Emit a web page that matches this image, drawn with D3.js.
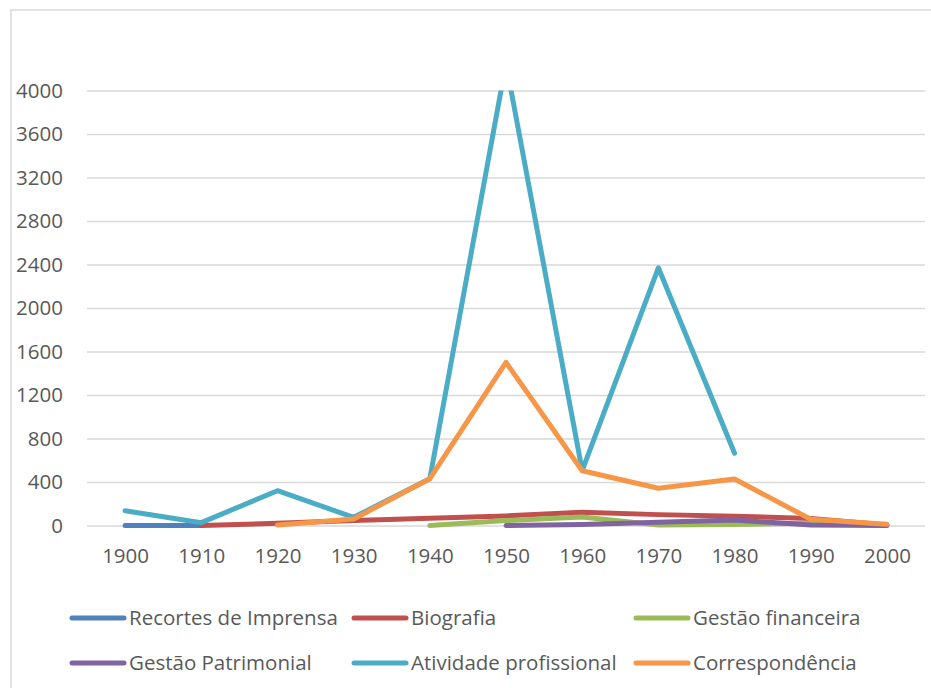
<!DOCTYPE html>
<html>
<head>
<meta charset="utf-8">
<script src="https://cdn.jsdelivr.net/npm/d3@7"></script>
<style>
  body{margin:0;background:#fff;}
  svg text{font-family:"Open Sans","Noto Sans",sans-serif;fill:#595959;}
</style>
</head>
<body>
<div id="chart"></div>
<script>
// categories
const years=[`1900`,`1910`,`1920`,`1930`,`1940`,`1950`,`1960`,`1970`,`1980`,`1990`,`2000`];
const yTicks=[0,400,800,1200,1600,2000,2400,2800,3200,3600,4000];

// series values, null = no data for that decade
const recortes=[0,0,null,null,null,null,null,null,null,null,null];
const biografia=[null,0,20,45,66,88,121,100,85,65,5];
const gestaoFinanceira=[null,null,null,null,0,45,78,5,10,20,0];
const gestaoPatrimonial=[null,null,null,null,null,0,10,30,50,5,0];
const atividade=[136,26,320,75,430,4250,505,2370,665,null,null];
const correspondencia=[null,null,5,60,430,1500,504,342,428,57,11];

const seriesNames=[`Recortes de Imprensa`,`Biografia`,`Gestão financeira`,`Gestão Patrimonial`,`Atividade profissional`,`Correspondência`];
const seriesValues=[recortes,biografia,gestaoFinanceira,gestaoPatrimonial,atividade,correspondencia];
const colors=[`#4F81BD`,`#C0504D`,`#9BBB59`,`#8064A2`,`#4BACC6`,`#F79646`];

let Chart={
    format:{width:931,height:688,plot:{left:87,right:925,top:90.5,bottom:525.5}},
    //svg with the outer chart border
    generateSvg(container){
        let svg=d3.select(container).append(`svg`)
            .attr(`width`,this.format.width)
            .attr(`height`,this.format.height);
        svg.append(`rect`)
            .attr(`x`,11).attr(`y`,10)
            .attr(`width`,940).attr(`height`,700)
            .attr(`fill`,`#fff`)
            .attr(`stroke`,`#D9D9D9`)
            .attr(`stroke-width`,1.5);
        return svg;
    },
    generateYAxis(svg){
        let p=this.format.plot;
        let y=d3.scaleLinear().domain([0,4000]).range([p.bottom,p.top]);
        let axis=svg.append(`g`)
            .attr(`class`,`y axis`)
            .attr(`transform`,`translate(${p.left},0)`)
            .call(d3.axisLeft(y).tickValues(yTicks).tickFormat(d3.format(`d`))
                .tickSize(-(p.right-p.left)).tickPadding(24));
        axis.select(`.domain`).remove();
        axis.selectAll(`line`).attr(`stroke`,`#D9D9D9`).attr(`stroke-width`,1.5);
        axis.selectAll(`text`).attr(`font-size`,`20.5px`).attr(`fill`,`#595959`);
        return y;
    },
    generateXAxis(svg){
        let p=this.format.plot;
        let x=d3.scalePoint().domain(years).range([p.left,p.right]).padding(0.5);
        let axis=svg.append(`g`)
            .attr(`class`,`x axis`)
            .attr(`transform`,`translate(0,${p.bottom})`)
            .call(d3.axisBottom(x).tickSize(0).tickPadding(23));
        axis.select(`.domain`).remove();
        axis.selectAll(`text`).attr(`font-size`,`20.5px`).attr(`fill`,`#595959`);
        return x;
    },
    generateLines(svg,x,y){
        let p=this.format.plot;
        svg.append(`clipPath`).attr(`id`,`plotclip`)
            .append(`rect`)
            .attr(`x`,p.left).attr(`y`,p.top)
            .attr(`width`,p.right-p.left).attr(`height`,p.bottom-p.top+10);
        let line=d3.line()
            .defined(d=>d.value!=null)
            .x(d=>x(d.year))
            .y(d=>y(d.value));
        svg.append(`g`)
            .attr(`class`,`line graph`)
            .attr(`clip-path`,`url(#plotclip)`)
            .selectAll(`path`)
            .data(seriesValues)
            .enter()
            .append(`path`)
            .attr(`fill`,`none`)
            .attr(`stroke`,(d,i)=>colors[i])
            .attr(`stroke-width`,5)
            .attr(`stroke-linecap`,`round`)
            .attr(`stroke-linejoin`,`round`)
            .attr(`d`,d=>line(d.map((v,j)=>({year:years[j],value:v}))));
    },
    //two rows of three entries
    generateLegend(svg){
        let colX=[70,352,634],rowY=[618,663];
        let item=svg.append(`g`).attr(`class`,`legend`)
            .selectAll(`g`)
            .data(seriesNames)
            .enter()
            .append(`g`)
            .attr(`transform`,(d,i)=>`translate(${colX[i%3]},${rowY[Math.floor(i/3)]})`);
        item.append(`line`)
            .attr(`x1`,2).attr(`x2`,54)
            .attr(`stroke`,(d,i)=>colors[i])
            .attr(`stroke-width`,5)
            .attr(`stroke-linecap`,`round`);
        item.append(`text`)
            .attr(`x`,59).attr(`y`,7)
            .attr(`font-size`,`20.5px`)
            .text(d=>d);
    }
};

let svg=Chart.generateSvg(`#chart`);
let y=Chart.generateYAxis(svg);
let x=Chart.generateXAxis(svg);
Chart.generateLines(svg,x,y);
Chart.generateLegend(svg);
</script>
</body>
</html>
